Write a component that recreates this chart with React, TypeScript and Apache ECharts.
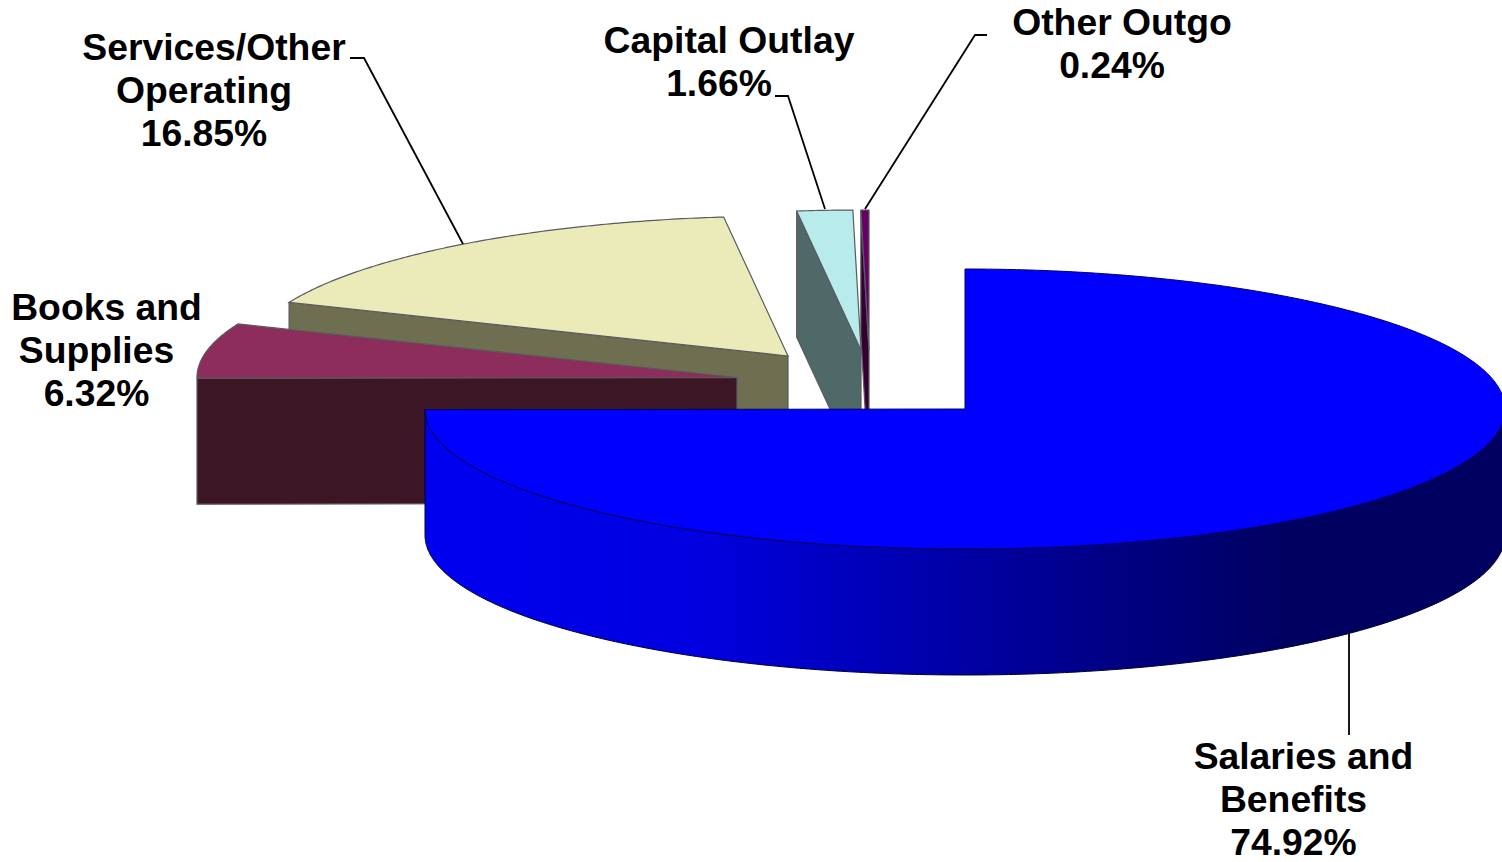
import React, { useEffect, useRef } from "react";
import * as echarts from "echarts";

// ---- data, clockwise from twelve o'clock ----
const categories = ["Salaries and Benefits", "Books and Supplies", "Services/Other Operating", "Capital Outlay", "Other Outgo"];
const shares = [74.92, 6.32, 16.85, 1.66, 0.24];
const labelLines = [
  ["Salaries and", "Benefits", "74.92%"],
  ["Books and", "Supplies", "6.32%"],
  ["Services/Other", "Operating", "16.85%"],
  ["Capital Outlay", "1.66%"],
  ["Other Outgo", "0.24%"],
];

// ---- layout and style ----
const RX = 540;
const RY = 140;
const DEPTH = 126;
const apexX = [965, 737, 788, 861, 869];
const apexY = [409, 377.5, 356, 350, 350];
const topColors = ["#0000ff", "#8c2d5c", "#ebebb9", "#b8ebeb", "#660066"];
const wallColors = ["#0000ff", "#3d1626", "#6e6e50", "#4f6868", "#330033"];
const paintOrder = [50, 40, 30, 20, 10];
const labelX = [1293.5, 96.5, 204, 719, 1112];
const labelBaseline = [768.5, 320, 60, 53, 35];
const leaders = [
  [[1349, 633], [1349, 735]],
  [],
  [[350, 58], [364, 58], [463, 244]],
  [[775, 96], [788, 96], [825, 209]],
  [[987, 35], [975, 35], [865, 209]],
];
const FONT = "'Liberation Sans', Arial, sans-serif";
const FONT_SIZE = 37.3;
const LINE_STEP = 43;
const FIRST_LINE_SHIFT = 10;
const total = shares.reduce((a, b) => a + b, 0);

function rim(cx: number, cy: number, deg: number): number[] {
  const a = (deg * Math.PI) / 180;
  return [cx + RX * Math.sin(a), cy - RY * Math.cos(a)];
}
function arc(cx: number, cy: number, from: number, to: number): number[][] {
  const n = Math.max(2, Math.ceil(Math.abs(to - from) * 2));
  const pts: number[][] = [];
  for (let i = 0; i <= n; i++) pts.push(rim(cx, cy, from + ((to - from) * i) / n));
  return pts;
}

function renderSlice(params: any, api: any) {
  const i = params.dataIndex;
  let before = 0;
  for (let k = 0; k < i; k++) before += shares[k];
  const start = (before / total) * 360;
  const end = start + (api.value(1) / total) * 360;
  const cx = apexX[i];
  const cy = apexY[i];
  const z = paintOrder[i];
  const edge = { stroke: "#5a5a5f", lineWidth: 1.2 };
  const children: any[] = [];

  if (i === 0) {
    // the rim that faces the viewer, from three o'clock round to the end of the slice
    const upper = arc(cx, cy, 90, end);
    const lower = upper.map((p) => [p[0], p[1] + DEPTH]).reverse();
    children.push({
      type: "polygon",
      z2: z,
      shape: { points: [...upper, ...lower] },
      style: {
        fill: new echarts.graphic.LinearGradient(0, 0, 1, 0, [
          { offset: 0, color: "#0000f0" },
          { offset: 0.25, color: "#0000e0" },
          { offset: 0.45, color: "#0000b0" },
          { offset: 0.63, color: "#000085" },
          { offset: 0.8, color: "#000060" },
          { offset: 1, color: "#000060" },
        ]),
        stroke: "#00002a",
        lineWidth: 1,
      },
    });
  } else {
    // the cut face along the slice's first edge
    const outer = rim(cx, cy, start);
    children.push({
      type: "polygon",
      z2: z,
      shape: {
        points: [outer, [cx, cy], [cx, cy + DEPTH], [outer[0], outer[1] + DEPTH]],
      },
      style: { fill: wallColors[i], ...edge },
    });
  }
  children.push({
    type: "polygon",
    z2: z + 1,
    shape: { points: [[cx, cy], ...arc(cx, cy, start, end)] },
    style:
      i === 0
        ? { fill: topColors[i], stroke: "#00006a", lineWidth: 1 }
        : { fill: topColors[i], ...edge },
  });

  if (leaders[i].length) {
    children.push({
      type: "polyline",
      z2: 100,
      shape: { points: leaders[i] },
      style: { fill: "none", stroke: "#000000", lineWidth: 1.8 },
    });
  }
  labelLines[i].forEach((text, li) => {
    children.push({
      type: "text",
      z2: 101,
      x: labelX[i] + (li === 0 ? FIRST_LINE_SHIFT : 0),
      y: labelBaseline[i] + li * LINE_STEP - 13,
      style: {
        text,
        fontFamily: FONT,
        fontSize: FONT_SIZE,
        fontWeight: "bold",
        fill: "#000000",
        align: "center",
        verticalAlign: "middle",
      },
    });
  });
  return { type: "group", children };
}

export default function App() {
  const ref = useRef<HTMLDivElement>(null);
  useEffect(() => {
    document.body.style.margin = "0";
    document.body.style.overflow = "hidden";
    const chart = echarts.init(ref.current!, null, { renderer: "svg" });
    chart.setOption({
      animation: false,
      backgroundColor: "#ffffff",
      series: [
        {
          type: "custom",
          coordinateSystem: "none",
          silent: true,
          clip: false,
          renderItem: renderSlice,
          data: categories.map((name, i) => ({ name, value: [i, shares[i]] })),
        },
      ],
    });
    return () => chart.dispose();
  }, []);
  return <div ref={ref} style={{ width: 1502, height: 862 }} />;
}
